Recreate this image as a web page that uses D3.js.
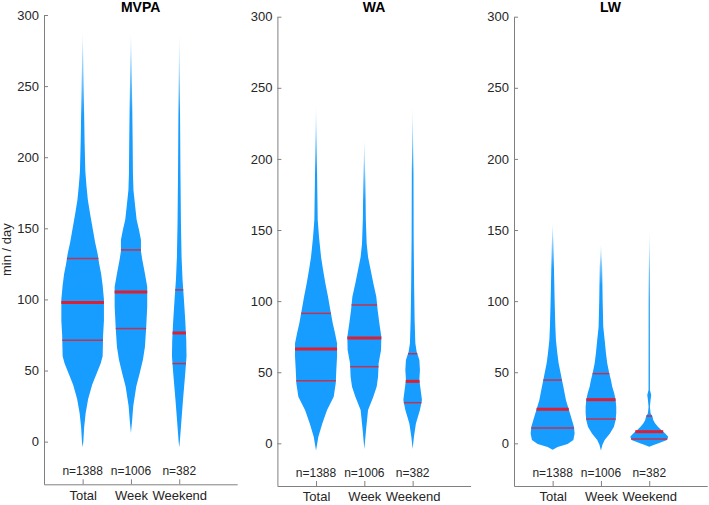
<!DOCTYPE html>
<html>
<head>
<meta charset="utf-8">
<script src="https://cdn.jsdelivr.net/npm/d3@7"></script>
<style>
	body { margin: 0; background: #fff; }
	svg { display: block; font-family: "Liberation Sans", Arial, sans-serif; }
	.axis path, .axis line { stroke: #808080; }
	.axis text { fill: #262626; }
</style>
</head>
<body>
<div id="chart"></div>
<script>
const groups = ['Total', 'Week', 'Weekend']
const counts = [1388, 1006, 382]
const panelTitles = ['MVPA', 'WA', 'LW']
const yTicks = [0, 50, 100, 150, 200, 250, 300]

// density profiles: [value (min/day), half width (x units)]
const mvpaTotal = [[-4, 0], [0, 0.014], [10, 0.031], [20, 0.062], [30, 0.114], [40, 0.197], [48, 0.29], [55, 0.373], [60, 0.414], [75, 0.424], [85, 0.441], [100, 0.441], [110, 0.414], [118, 0.383], [125, 0.342], [132, 0.311], [140, 0.259], [150, 0.207], [160, 0.155], [170, 0.108], [180, 0.079], [190, 0.056], [210, 0.041], [230, 0.031], [250, 0.021], [270, 0.012], [288, 0]]
const mvpaWeek = [[6, 0], [15, 0.025], [25, 0.048], [38.7, 0.11], [48, 0.18], [57.5, 0.248], [66.8, 0.29], [81, 0.317], [95, 0.337], [109, 0.337], [118, 0.29], [128, 0.234], [134, 0.207], [142, 0.207], [149, 0.166], [156, 0.118], [165, 0.089], [177, 0.052], [189, 0.041], [212, 0.035], [240, 0.025], [265, 0.014], [288, 0]]
const mvpaWeekend = [[-4, 0], [0, 0.012], [13, 0.041], [29, 0.077], [48, 0.124], [60, 0.151], [71.5, 0.145], [85.6, 0.124], [100, 0.097], [114, 0.068], [130, 0.048], [154, 0.035], [189, 0.025], [230, 0.017], [288, 0]]

const waTotal = [[-5, 0], [4.6, 0.048], [14, 0.13], [23.4, 0.228], [32.8, 0.366], [42.2, 0.408], [51.5, 0.42], [61, 0.435], [70.3, 0.435], [77.4, 0.393], [84.4, 0.346], [93.7, 0.296], [103, 0.248], [112.5, 0.193], [122, 0.145], [131, 0.104], [145, 0.062], [157, 0.035], [180, 0.025], [210, 0.014], [238, 0]]
const waWeek = [[-4, 0], [9.4, 0.035], [23.4, 0.077], [32.8, 0.186], [39.8, 0.255], [46.8, 0.284], [56.3, 0.296], [65.6, 0.346], [75, 0.352], [84.4, 0.311], [93.7, 0.275], [103, 0.248], [112.5, 0.186], [122, 0.13], [131, 0.077], [140.6, 0.048], [157, 0.031], [185, 0.021], [214, 0]]
const waWeekend = [[-4, 0], [4.6, 0.027], [14, 0.068], [23.4, 0.151], [30.4, 0.193], [37.5, 0.166], [44.5, 0.139], [51.5, 0.151], [58.6, 0.139], [64.4, 0.083], [70.3, 0.056], [86.7, 0.041], [110, 0.031], [145, 0.021], [192, 0.017], [237, 0]]

const lwTotal = [[-4.5, 0], [-2.5, 0.104], [-0.5, 0.31], [2.3, 0.429], [7, 0.455], [11.7, 0.441], [16.4, 0.4], [21.1, 0.358], [25.7, 0.317], [30.4, 0.275], [35.2, 0.248], [39.8, 0.222], [44.5, 0.193], [49.2, 0.166], [56.3, 0.124], [63.3, 0.097], [72.6, 0.068], [82, 0.056], [100.8, 0.041], [124, 0.027], [140, 0.017], [155, 0]]
const lwWeek = [[-5, 0], [-1, 0.031], [2.3, 0.077], [7, 0.186], [11.7, 0.269], [16.4, 0.304], [21.1, 0.317], [25.7, 0.317], [30.4, 0.304], [35.2, 0.275], [39.8, 0.234], [44.5, 0.207], [49.2, 0.172], [56.3, 0.13], [63.3, 0.104], [72.6, 0.077], [82, 0.048], [100.8, 0.035], [124, 0.025], [140, 0]]
const lwWeekend = [[-2.4, 0], [-1, 0.104], [0, 0.193], [2.3, 0.366], [4.7, 0.393], [7, 0.331], [9.4, 0.248], [11.7, 0.18], [14, 0.124], [16.4, 0.083], [18.7, 0.068], [21.1, 0.027], [25.7, 0.014], [30.4, 0.027], [34, 0.041], [37.5, 0.014], [54, 0.014], [100, 0.012], [152, 0]]

// quartiles per group: [q1, median, q3]
const mvpaQuart = [[71.3, 97.8, 128.7], [79.5, 105.3, 134.8], [54.9, 76.4, 106.7]]
const waQuart = [[44, 66.3, 91.4], [53.9, 74, 97.3], [28.6, 43.6, 63]]
const lwQuart = [[10.8, 23.9, 44.5], [17.1, 30.7, 49], [3, 8.2, 19.2]]

const profiles = [[mvpaTotal, mvpaWeek, mvpaWeekend], [waTotal, waWeek, waWeekend], [lwTotal, lwWeek, lwWeekend]]
const quartiles = [mvpaQuart, waQuart, lwQuart]

const panels = [
	{ left: 44, top: 15, bottom: 484.3 },
	{ left: 277.4, top: 16.7, bottom: 486 },
	{ left: 514, top: 16.7, bottom: 486 }
]
const panelWidth = 193.2

const svg = d3.select('#chart')
	.append('svg')
	.attr('width', 709)
	.attr('height', 505)

const defs = svg.append('defs')

function widthAt(profile, v) {
	for (let i = 0; i < profile.length - 1; i++) {
		const a = profile[i], b = profile[i + 1]
		if (v >= a[0] && v <= b[0]) {
			return a[1] + (b[1] - a[1]) * (v - a[0]) / (b[0] - a[0])
		}
	}
	return 0
}

panels.forEach((p, pi) => {
	const x = d3.scaleLinear().domain([0.2, 4.2]).range([p.left, p.left + panelWidth])
	const y = d3.scaleLinear().domain([-30, 300]).range([p.bottom, p.top])
	const g = svg.append('g')

	profiles[pi].forEach((prof, gi) => {
		const c = gi + 1
		const lo = prof[0][0]
		const hi = prof[prof.length - 1][0]
		const span = hi - lo

		// upper tail fades out
		const gradId = `fade${pi}${gi}`
		const grad = defs.append('linearGradient')
			.attr('id', gradId)
			.attr('gradientUnits', 'userSpaceOnUse')
			.attr('x1', 0).attr('x2', 0)
			.attr('y1', y(hi)).attr('y2', y(lo))
		const yFadeTop = (y(hi - span * 0.2) - y(hi)) / (y(lo) - y(hi))
		grad.append('stop').attr('offset', 0).attr('stop-color', '#179cff').attr('stop-opacity', 0.1)
		grad.append('stop').attr('offset', yFadeTop).attr('stop-color', '#179cff').attr('stop-opacity', 1)
		grad.append('stop').attr('offset', 1).attr('stop-color', '#179cff').attr('stop-opacity', 1)

		const area = d3.area()
			.y(d => y(d[0]))
			.x0(d => x(c - d[1]))
			.x1(d => x(c + d[1]))
		g.append('path')
			.datum(prof)
			.attr('d', area)
			.attr('fill', `url(#${gradId})`)

		quartiles[pi][gi].forEach((q, qi) => {
			const w = widthAt(prof, q)
			g.append('line')
				.attr('x1', x(c - w))
				.attr('x2', x(c + w))
				.attr('y1', y(q))
				.attr('y2', y(q))
				.attr('stroke', qi === 1 ? '#dc1f33' : '#c2334f')
				.attr('stroke-width', qi === 1 ? 3 : 1.5)
		})

		g.append('text')
			.attr('x', x(c))
			.attr('y', p.bottom - 9)
			.attr('text-anchor', 'middle')
			.style('font-size', '12px')
			.attr('fill', '#262626')
			.text('n=' + counts[gi])
	})

	g.append('g')
		.attr('class', 'axis')
		.attr('transform', `translate(${p.left},0)`)
		.call(d3.axisLeft(y).tickValues(yTicks).tickSizeInner(-4).tickSizeOuter(0).tickPadding(5))
		.call(a => a.selectAll('text').style('font-size', '13px'))

	g.append('g')
		.attr('class', 'axis')
		.attr('transform', `translate(0,${p.bottom})`)
		.call(d3.axisBottom(x).tickValues([1, 2, 3]).tickFormat((d, i) => groups[i]).tickSizeInner(-5).tickSizeOuter(0).tickPadding(6))
		.call(a => a.selectAll('text').style('font-size', '13px'))

	g.selectAll('.axis').attr('font-family', null)

	g.append('text')
		.attr('x', p.left + panelWidth / 2)
		.attr('y', 12)
		.attr('text-anchor', 'middle')
		.style('font-size', '14px')
		.style('font-weight', 'bold')
		.attr('fill', '#000')
		.text(panelTitles[pi])
})

svg.append('text')
	.attr('transform', `translate(11,${(15 + 484.3) / 2}) rotate(-90)`)
	.attr('text-anchor', 'middle')
	.style('font-size', '13px')
	.attr('fill', '#262626')
	.text('min / day')
</script>
</body>
</html>
